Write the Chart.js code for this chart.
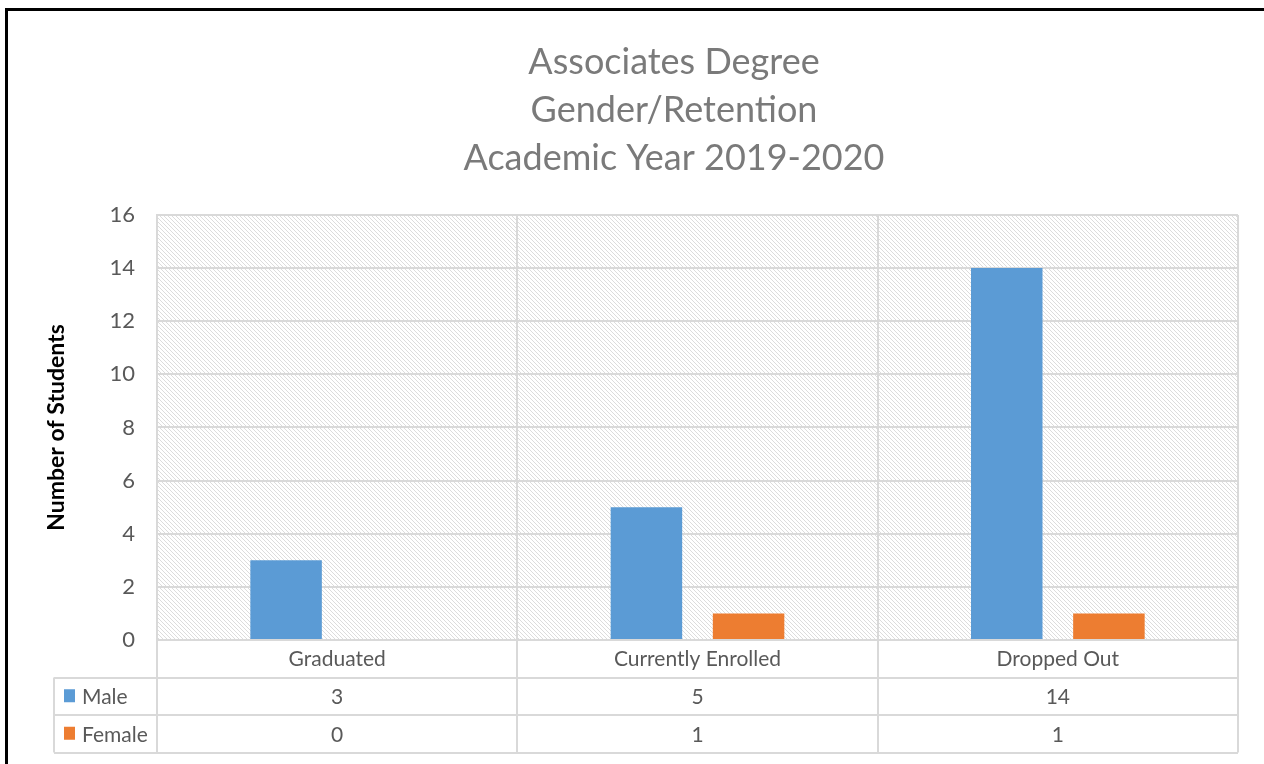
<!DOCTYPE html>
<html>
<head>
<meta charset="utf-8">
<title>Associates Degree Gender/Retention</title>
<script src="https://cdn.jsdelivr.net/npm/chart.js@4/dist/chart.umd.min.js"></script>
<style>
  html, body { margin: 0; padding: 0; background: #fff; overflow: hidden; }
  #frame {
    position: absolute; left: 5px; top: 8px;
    width: 1400px; height: 900px;
    border: 3px solid #000;
  }
  #usageChart { position: absolute; left: 0; top: 0; }
</style>
</head>
<body>
<div id="frame"></div>
<canvas id="usageChart" width="1264" height="764"></canvas>
<script>
// data
let categories = ["Graduated", "Currently Enrolled", "Dropped Out"];
let maleValues = [3, 5, 14];
let femaleValues = [0, 1, 1];
let seriesNames = ["Male", "Female"];
let seriesColors = ["#5B9BD5", "#ED7D31"];
let titleLines = ["Associates Degree", "Gender/Retention", "Academic Year 2019-2020"];
let yMax = 16;
let yStep = 2;

let textGray = "#595959";
let titleGray = "#7a7a7a";
let lineGray = "#d9d9d9";
let fontName = "Lato";

// hatched plot background
let hatch = (function () {
    let c = document.createElement("canvas");
    c.width = 4;
    c.height = 4;
    let g = c.getContext("2d");
    g.fillStyle = "#ffffff";
    g.fillRect(0, 0, 4, 4);
    g.strokeStyle = "#dcdcdc";
    g.lineWidth = 1;
    g.beginPath();
    g.moveTo(-1, -1);
    g.lineTo(5, 5);
    g.stroke();
    return g.createPattern(c, "repeat");
})();

let hatchPlugin = {
    id: "hatch",
    beforeDraw(chart) {
        let a = chart.chartArea;
        let ctx = chart.ctx;
        ctx.save();
        ctx.fillStyle = hatch;
        ctx.fillRect(a.left, a.top, a.right - a.left, a.bottom - a.top);
        ctx.restore();
    }
};

// data table under the chart
let tablePlugin = {
    id: "dataTable",
    afterDraw(chart) {
        let ctx = chart.ctx;
        let x = chart.scales.x;
        let a = chart.chartArea;
        let rowH = 37.5;
        let tableLeft = 54;
        let top1 = a.bottom;
        let top2 = top1 + rowH;
        let bottom = top2 + rowH * chart.data.datasets.length;
        let catW = (x.right - x.left) / categories.length;

        ctx.save();
        ctx.strokeStyle = lineGray;
        ctx.lineWidth = 2;
        ctx.beginPath();
        // vertical lines
        for (let i = 0; i <= categories.length; i++) {
            let px = Math.round(x.left + catW * i);
            ctx.moveTo(px, top1);
            ctx.lineTo(px, bottom);
        }
        ctx.moveTo(tableLeft, top2);
        ctx.lineTo(tableLeft, bottom);
        // horizontal lines
        for (let r = 0; r <= chart.data.datasets.length; r++) {
            let py = Math.round(top2 + rowH * r);
            ctx.moveTo(tableLeft, py);
            ctx.lineTo(x.right, py);
        }
        ctx.stroke();

        ctx.font = "21px " + fontName;
        ctx.textBaseline = "middle";
        chart.data.datasets.forEach((ds, r) => {
            let cy = top2 + rowH * r + rowH / 2;
            // legend key
            ctx.fillStyle = ds.backgroundColor;
            ctx.fillRect(64, cy - 7, 11, 13);
            ctx.fillStyle = textGray;
            ctx.textAlign = "left";
            ctx.fillText(ds.label, 82, cy + 1);
            ctx.textAlign = "center";
            ds.data.forEach((v, i) => {
                ctx.fillText(String(v), x.getPixelForValue(i), cy + 1);
            });
        });
        ctx.restore();
    }
};

let ctx = document.getElementById("usageChart").getContext("2d");

new Chart(ctx, {
    type: "bar",
    data: {
        labels: categories,
        datasets: [{
            label: seriesNames[0],
            data: maleValues,
            backgroundColor: seriesColors[0]
        }, {
            label: seriesNames[1],
            data: femaleValues,
            backgroundColor: seriesColors[1]
        }]
    },
    options: {
        responsive: false,
        devicePixelRatio: 1,
        animation: false,
        categoryPercentage: 0.567,
        barPercentage: 0.7,
        layout: {
            // left padding also centres the title over x = 674
            padding: { top: 38, left: 110, right: 26, bottom: 84 }
        },
        plugins: {
            legend: { display: false },
            tooltip: { enabled: false },
            title: {
                display: true,
                text: titleLines,
                color: titleGray,
                font: { family: fontName, size: 36, weight: "normal", lineHeight: 1.333 },
                padding: { top: 0, bottom: 33 }
            }
        },
        scales: {
            x: {
                afterFit(scale) { scale.height = 40; },
                grid: { color: lineGray, lineWidth: 2, drawTicks: false },
                border: { color: lineGray, width: 2 },
                ticks: {
                    color: textGray,
                    font: { family: fontName, size: 21 },
                    padding: 7
                }
            },
            y: {
                min: 0,
                max: yMax,
                afterFit(scale) { scale.width = 47; },
                grid: { color: lineGray, lineWidth: 2, drawTicks: false },
                border: { color: lineGray, width: 2 },
                ticks: {
                    stepSize: yStep,
                    color: textGray,
                    font: { family: fontName, size: 22 },
                    padding: 22
                },
                title: {
                    display: true,
                    text: "Number of Students",
                    color: "#000000",
                    font: { family: fontName, size: 23, weight: "bold" },
                    // pulled left, out past the scale box
                    padding: { top: -67, bottom: 0 }
                }
            }
        }
    },
    plugins: [hatchPlugin, tablePlugin]
});
</script>
</body>
</html>
